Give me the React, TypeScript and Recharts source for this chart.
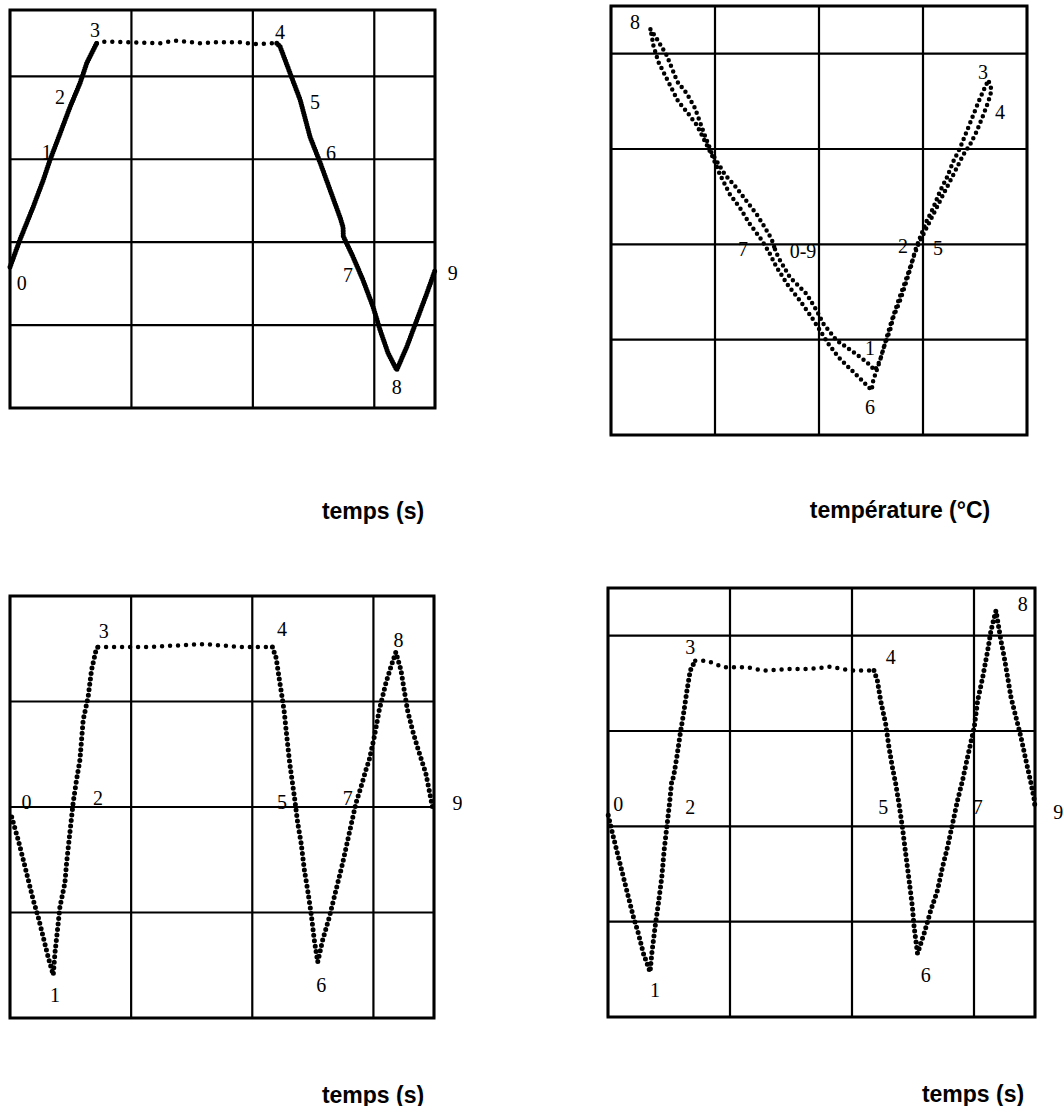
import { ComposedChart, Line, XAxis, YAxis, CartesianGrid, ReferenceDot, ReferenceArea } from 'recharts'

type Pt = [number, number]
type Mark = [number, number, string]

// top left, against time: rise, plateau, fall
const t1Up: Pt[] = [
  [0, 1.7], [0.082, 2.03], [0.192, 2.43], [0.274, 2.75], [0.329, 2.99], [0.412, 3.31],
  [0.494, 3.63], [0.577, 3.92], [0.632, 4.16], [0.714, 4.4],
]
const t1Top: Pt[] = [
  [0.714, 4.4], [0.741, 4.42], [0.988, 4.41], [1.236, 4.4], [1.359, 4.43], [1.565, 4.4],
  [1.689, 4.41], [1.895, 4.41], [2.018, 4.39], [2.197, 4.4],
]
const t1Down: Pt[] = [
  [2.197, 4.4], [2.224, 4.36], [2.306, 4.04], [2.389, 3.72], [2.471, 3.27], [2.554, 2.96],
  [2.636, 2.63], [2.718, 2.3], [2.743, 2.18], [2.745, 2.07], [2.826, 1.82], [2.908, 1.54],
  [2.99, 1.22], [3.048, 0.94], [3.114, 0.66], [3.185, 0.46], [3.268, 0.74], [3.35, 1.06],
  [3.432, 1.38], [3.5, 1.66],
]
const t1Marks: Mark[] = [
  [0.096, 1.51, '0'], [0.302, 3.09, '1'], [0.412, 3.75, '2'], [0.7, 4.56, '3'], [2.224, 4.54, '4'],
  [2.512, 3.69, '5'], [2.644, 3.08, '6'], [2.784, 1.6, '7'], [3.185, 0.25, '8'], [3.647, 1.63, '9'],
]

// top right, against temperature: one loop 0 -> 9
const p2Loop: Pt[] = [
  [1.577, 1.948], [1.609, 1.862], [1.721, 1.653], [1.881, 1.479], [1.978, 1.305], [2.042, 1.166],
  [2.17, 0.992], [2.33, 0.87], [2.458, 0.765], [2.538, 0.678],
  [2.587, 0.783], [2.635, 0.957], [2.683, 1.096], [2.715, 1.235], [2.779, 1.409], [2.843, 1.618],
  [2.891, 1.792], [2.923, 1.931], [2.971, 2.07], [3.035, 2.244], [3.099, 2.383], [3.163, 2.557],
  [3.228, 2.697], [3.292, 2.871], [3.356, 3.01], [3.42, 3.184], [3.484, 3.358], [3.548, 3.532],
  [3.628, 3.723], [3.66, 3.619],
  [3.628, 3.497], [3.58, 3.358], [3.516, 3.184], [3.452, 3.045], [3.388, 2.94], [3.324, 2.801],
  [3.26, 2.662], [3.202, 2.54], [3.147, 2.418], [3.083, 2.279], [3.019, 2.14], [2.955, 2.001],
  [2.907, 1.862], [2.843, 1.653], [2.763, 1.409], [2.699, 1.2], [2.651, 1.026], [2.587, 0.783],
  [2.522, 0.574], [2.506, 0.47],
  [2.394, 0.592], [2.298, 0.696], [2.186, 0.818], [2.09, 0.957], [2.01, 1.096], [1.929, 1.235],
  [1.817, 1.409], [1.705, 1.566], [1.593, 1.757], [1.513, 1.931], [1.433, 2.07], [1.337, 2.209],
  [1.24, 2.383], [1.144, 2.523], [1.048, 2.731], [0.968, 2.94], [0.904, 3.079], [0.824, 3.253],
  [0.728, 3.392], [0.647, 3.497], [0.583, 3.636], [0.519, 3.775], [0.455, 3.914], [0.407, 4.088],
  [0.391, 4.193], [0.375, 4.262],
  [0.439, 4.158], [0.535, 3.984], [0.638, 3.706], [0.728, 3.584], [0.808, 3.427], [0.888, 3.184],
  [0.968, 2.958], [1.096, 2.731], [1.208, 2.592], [1.304, 2.453], [1.401, 2.314], [1.481, 2.175],
  [1.545, 2.053], [1.577, 1.948],
]
const p2Marks: Mark[] = [
  [0.231, 4.33, '8'], [3.577, 3.81, '3'], [3.74, 3.39, '4'], [2.808, 1.98, '2'], [3.144, 1.96, '5'],
  [1.269, 1.95, '7'], [1.846, 1.93, '0-9'], [2.49, 0.91, '1'], [2.49, 0.29, '6'],
]

// bottom left, against time
const t3Up: Pt[] = [
  [0.014, 1.905], [0.068, 1.687], [0.11, 1.498], [0.151, 1.308], [0.192, 1.118], [0.233, 0.957],
  [0.274, 0.768], [0.315, 0.578], [0.357, 0.408], [0.371, 0.616], [0.398, 0.9], [0.412, 1.052],
  [0.453, 1.28], [0.467, 1.469], [0.494, 1.754], [0.521, 2.038], [0.549, 2.256], [0.577, 2.445],
  [0.604, 2.825], [0.645, 3.043], [0.673, 3.299], [0.714, 3.507], [0.727, 3.517],
]
const t3Top: Pt[] = [
  [0.727, 3.517], [0.797, 3.517], [1.153, 3.517], [1.606, 3.545], [1.895, 3.517], [2.166, 3.517],
]
const t3Down: Pt[] = [
  [2.166, 3.517], [2.197, 3.412], [2.224, 3.204], [2.246, 3.043], [2.265, 2.891], [2.279, 2.73],
  [2.306, 2.445], [2.32, 2.322], [2.348, 2.095], [2.375, 1.848], [2.403, 1.659], [2.43, 1.403],
  [2.457, 1.213], [2.485, 0.995], [2.512, 0.739], [2.54, 0.531], [2.581, 0.739], [2.636, 0.957],
  [2.691, 1.213], [2.746, 1.469], [2.801, 1.754], [2.856, 2.038], [2.897, 2.19], [2.938, 2.351],
  [2.965, 2.445], [3.007, 2.664], [3.048, 2.919], [3.103, 3.175], [3.144, 3.327], [3.185, 3.469],
  [3.227, 3.299], [3.254, 3.109], [3.281, 2.919], [3.322, 2.73], [3.363, 2.569], [3.405, 2.417],
  [3.432, 2.322], [3.46, 2.161], [3.487, 2.0],
]
const t3Marks: Mark[] = [
  [0.137, 2.05, '0'], [0.371, 0.218, '1'], [0.727, 2.085, '2'], [0.774, 3.668, '3'], [2.246, 3.684, '4'],
  [2.246, 2.05, '5'], [2.57, 0.313, '6'], [2.787, 2.085, '7'], [3.207, 3.583, '8'], [3.693, 2.038, '9'],
]

// bottom right, against time
const t4Up: Pt[] = [
  [0.002, 2.115], [0.044, 1.888], [0.085, 1.679], [0.126, 1.469], [0.167, 1.26], [0.208, 1.051],
  [0.249, 0.876], [0.29, 0.667], [0.345, 0.474], [0.359, 0.667], [0.386, 0.946], [0.413, 1.191],
  [0.441, 1.469], [0.46, 1.749], [0.482, 1.993], [0.504, 2.238], [0.523, 2.482], [0.537, 2.516],
  [0.564, 2.726], [0.592, 2.971], [0.619, 3.18], [0.647, 3.424], [0.674, 3.634], [0.715, 3.738],
]
const t4Top: Pt[] = [
  [0.715, 3.738], [0.811, 3.738], [0.947, 3.668], [1.14, 3.668], [1.276, 3.634], [1.495, 3.651],
  [1.66, 3.651], [1.824, 3.675], [1.989, 3.634], [2.18, 3.634],
]
const t4Down: Pt[] = [
  [2.18, 3.634], [2.208, 3.529], [2.235, 3.319], [2.276, 3.075], [2.303, 2.83], [2.331, 2.621],
  [2.358, 2.447], [2.385, 2.238], [2.413, 1.993], [2.44, 1.714], [2.468, 1.435], [2.495, 1.155],
  [2.509, 0.946], [2.537, 0.667], [2.591, 0.876], [2.646, 1.12], [2.701, 1.33], [2.742, 1.574],
  [2.783, 1.783], [2.824, 2.028], [2.865, 2.272], [2.906, 2.482], [2.947, 2.726], [3.002, 3.04],
  [3.03, 3.319], [3.071, 3.563], [3.112, 3.843], [3.139, 4.052], [3.166, 4.192], [3.18, 4.262],
  [3.221, 3.948], [3.248, 3.773], [3.276, 3.563], [3.303, 3.354], [3.344, 3.145], [3.385, 2.935],
  [3.426, 2.691], [3.468, 2.447], [3.495, 2.272], [3.5, 2.185],
]
const t4Marks: Mark[] = [
  [0.085, 2.238, '0'], [0.386, 0.283, '1'], [0.674, 2.203, '2'], [0.674, 3.883, '3'], [2.317, 3.778, '4'],
  [2.257, 2.203, '5'], [2.604, 0.44, '6'], [3.03, 2.203, '7'], [3.4, 4.331, '8'], [3.691, 2.147, '9'],
]

const SERIF = "'Liberation Serif', 'Times New Roman', serif"
const SANS = "'Liberation Sans', Arial, sans-serif"

const rows = (pts: Pt[]) => pts.map(([x, y]) => ({ x, y }))

interface Seg {
  pts: Pt[]
  gap: number
  dot: number
}

interface PanelProps {
  left: number
  top: number
  width: number
  height: number
  xMax: number
  yMax: number
  xTicks: number[]
  yTicks: number[]
  segs: Seg[]
  marks: Mark[]
}

function Panel({ left, top, width, height, xMax, yMax, xTicks, yTicks, segs, marks }: PanelProps) {
  return (
    <div style={{ position: 'absolute', left, top }}>
      <ComposedChart width={width} height={height} margin={{ top: 30, right: 28, bottom: 30, left: 30 }}>
        <CartesianGrid stroke="#000" strokeWidth={2.2} />
        <XAxis type="number" dataKey="x" domain={[0, xMax]} ticks={xTicks} hide />
        <YAxis type="number" dataKey="y" domain={[0, yMax]} ticks={yTicks} hide />
        {/* heavier frame round the plot */}
        <ReferenceArea x1={0} x2={xMax} y1={0} y2={yMax} fill="none" stroke="#000" strokeWidth={3} />
        {segs.map((s, i) => (
          <Line
            key={i}
            data={rows(s.pts)}
            dataKey="y"
            stroke="#000"
            strokeWidth={s.dot}
            strokeDasharray={`0 ${s.gap}`}
            strokeLinecap="round"
            strokeLinejoin="round"
            dot={false}
            activeDot={false}
            isAnimationActive={false}
          />
        ))}
        {marks.map(([x, y, t]) => (
          <ReferenceDot
            key={t}
            x={x}
            y={y}
            r={0}
            ifOverflow="visible"
            shape={(p: any) => (
              <text x={p.cx} y={p.cy} textAnchor="middle" dominantBaseline="central"
                fontFamily={SERIF} fontSize={20} fill="#000">
                {t}
              </text>
            )}
          />
        ))}
      </ComposedChart>
    </div>
  )
}

const Title = ({ x, y, children }: { x: number; y: number; children: string }) => (
  <div style={{
    position: 'absolute', left: x, top: y, transform: 'translate(-50%, -50%)',
    font: `bold 23px ${SANS}`, color: '#000', whiteSpace: 'nowrap',
  }}>
    {children}
  </div>
)

export default function App() {
  const timeTicks = [0, 1, 2, 3, 3.5]
  return (
    <div style={{ position: 'absolute', left: 0, top: 0, width: 1063, height: 1106, overflow: 'hidden', background: '#fff' }}>
      <Panel left={-20} top={-20} width={483} height={458} xMax={3.5} yMax={4.8}
        xTicks={timeTicks} yTicks={[0, 1, 2, 3, 4, 4.8]}
        segs={[{ pts: t1Up, gap: 2.5, dot: 5 }, { pts: t1Top, gap: 8, dot: 4.5 }, { pts: t1Down, gap: 2.5, dot: 5 }]}
        marks={t1Marks} />
      <Panel left={581} top={-24} width={474} height={489} xMax={4} yMax={4.5}
        xTicks={[0, 1, 2, 3, 4]} yTicks={[0, 1, 2, 3, 4, 4.5]}
        segs={[{ pts: p2Loop, gap: 6, dot: 4.5 }]}
        marks={p2Marks} />
      <Panel left={-20} top={566} width={482} height={482} xMax={3.5} yMax={4}
        xTicks={timeTicks} yTicks={[0, 1, 2, 3, 4]}
        segs={[{ pts: t3Up, gap: 5.5, dot: 5 }, { pts: t3Top, gap: 8, dot: 4.5 }, { pts: t3Down, gap: 5.5, dot: 5 }]}
        marks={t3Marks} />
      <Panel left={578} top={558} width={485} height={489} xMax={3.5} yMax={4.5}
        xTicks={timeTicks} yTicks={[0, 1, 2, 3, 4, 4.5]}
        segs={[{ pts: t4Up, gap: 5.5, dot: 5 }, { pts: t4Top, gap: 8, dot: 4.5 }, { pts: t4Down, gap: 5.5, dot: 5 }]}
        marks={t4Marks} />
      <Title x={373} y={511}>temps (s)</Title>
      <Title x={900} y={510}>température (°C)</Title>
      <Title x={373} y={1095}>temps (s)</Title>
      <Title x={973} y={1094}>temps (s)</Title>
    </div>
  )
}
